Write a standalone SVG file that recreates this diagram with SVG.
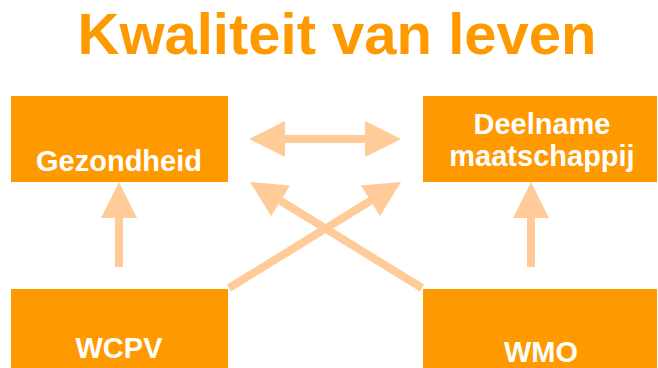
<svg xmlns="http://www.w3.org/2000/svg" width="658" height="368" viewBox="0 0 658 368">
<style>
.box{fill:#FF9900}
.lbl{font-family:"Liberation Sans",Arial,sans-serif;font-weight:bold;font-size:29px;fill:#FFFFFF;text-anchor:middle}
.title{font-family:"Liberation Sans",Arial,sans-serif;font-weight:bold;font-size:58px;fill:#FF9900;text-anchor:middle}
.arr{stroke:#FFCC99;stroke-width:8;fill:none}
</style>
<defs>
<marker id="head" viewBox="0 0 36 36" refX="16" refY="18" markerWidth="36" markerHeight="36" markerUnits="userSpaceOnUse" orient="auto-start-reverse">
<path d="M0,0 L36,18 L0,36 Z" fill="#FFCC99"/>
</marker>
</defs>
<rect width="658" height="368" fill="#FFFFFF"/>
<text class="title" x="337" y="54">Kwaliteit van leven</text>
<g id="connectors">
<line class="arr" x1="269" y1="139" x2="381" y2="139" marker-start="url(#head)" marker-end="url(#head)"/>
<line class="arr" x1="119" y1="267" x2="119" y2="202" marker-end="url(#head)"/>
<line class="arr" x1="531" y1="267" x2="531" y2="202" marker-end="url(#head)"/>
<line class="arr" x1="229" y1="288" x2="384" y2="192.5" marker-end="url(#head)"/>
<line class="arr" x1="422" y1="288" x2="267" y2="192.5" marker-end="url(#head)"/>
</g>
<g id="gezondheid">
<rect class="box" x="11" y="96" width="217" height="86"/>
<text class="lbl" x="119" y="171">Gezondheid</text>
</g>
<g id="deelname">
<rect class="box" x="423" y="96" width="234" height="86"/>
<text class="lbl" x="542" y="134">Deelname</text>
<text class="lbl" x="542" y="166">maatschappij</text>
</g>
<g id="wcpv">
<rect class="box" x="11" y="289" width="217" height="79"/>
<text class="lbl" x="119" y="358">WCPV</text>
</g>
<g id="wmo">
<rect class="box" x="423" y="289" width="234" height="79"/>
<text class="lbl" x="541" y="362">WMO</text>
</g>
</svg>
